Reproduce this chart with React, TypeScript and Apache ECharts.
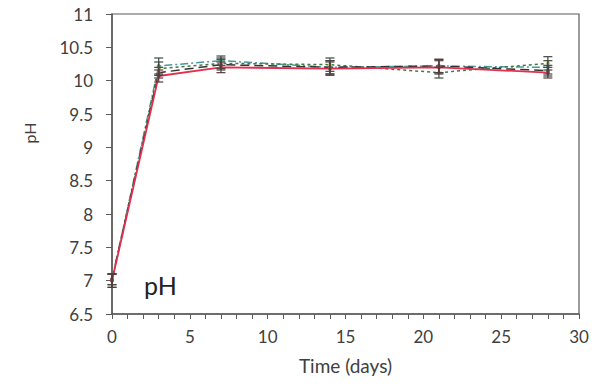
import React, { useEffect, useRef } from "react";
import * as echarts from "echarts";

const days = [0, 3, 7, 14, 21, 28];
const redVals = [7.0, 10.07, 10.2, 10.18, 10.2, 10.12];
const redErr = [0.1, 0.09, 0.08, 0.1, 0.1, 0.08];
const blackVals = [7.02, 10.12, 10.24, 10.2, 10.22, 10.15];
const blackErr = [0.08, 0.08, 0.08, 0.1, 0.1, 0.08];
const greenVals = [7.0, 10.18, 10.26, 10.24, 10.12, 10.26];
const greenErr = [0.1, 0.1, 0.08, 0.1, 0.08, 0.1];
const tealVals = [7.02, 10.22, 10.3, 10.2, 10.22, 10.2];
const tealErr = [0.08, 0.12, 0.07, 0.1, 0.1, 0.1];

const xTicks = [0, 5, 10, 15, 20, 25, 30];

export default function App() {
  const ref = useRef<HTMLDivElement>(null);
  useEffect(() => {
    if (!ref.current) return;
    const chart = echarts.init(ref.current, null, { renderer: "svg" });
    const font = "Lato, 'Open Sans', sans-serif";
    const axisColor = "#5a5a5a";
    const toPairs = (v: number[]) => days.map((d, i) => [d, v[i]]);
    const errData = (v: number[], e: number[]) => days.map((d, i) => [d, v[i] - e[i], v[i] + e[i]]);
    const errSeries = (v: number[], e: number[], color: string) => ({
      type: "custom",
      data: errData(v, e),
      z: 5,
      renderItem: (params: any, api: any) => {
        const x = api.value(0);
        const lo = api.coord([x, api.value(1)]);
        const hi = api.coord([x, api.value(2)]);
        const w = 4.5;
        const st = { stroke: color, lineWidth: 1.2 };
        return {
          type: "group",
          children: [
            { type: "line", shape: { x1: lo[0], y1: lo[1], x2: hi[0], y2: hi[1] }, style: st },
            { type: "line", shape: { x1: lo[0] - w, y1: lo[1], x2: lo[0] + w, y2: lo[1] }, style: st },
            { type: "line", shape: { x1: hi[0] - w, y1: hi[1], x2: hi[0] + w, y2: hi[1] }, style: st },
          ],
        };
      },
    });
    const lineSeries = (v: number[], color: string, type: any, width: number, mcolor: string) => ({
      type: "line",
      data: toPairs(v),
      symbol: "circle",
      symbolSize: 4,
      itemStyle: { color: mcolor },
      lineStyle: { color, type, width },
      z: 3,
    });
    chart.setOption({
      animation: false,
      grid: {
        left: 112,
        right: 20,
        top: 14,
        bottom: 73,
        show: true,
        borderColor: axisColor,
        borderWidth: 1.2,
      },
      xAxis: {
        type: "value",
        min: 0,
        max: 30,
        interval: 1,
        name: "Time (days)",
        nameLocation: "middle",
        nameGap: 42,
        nameTextStyle: { fontFamily: font, fontSize: 19, color: "#404040" },
        axisLine: { lineStyle: { color: axisColor, width: 1.5 } },
        axisTick: { show: true, length: 5, lineStyle: { color: axisColor } },
        axisLabel: {
          fontFamily: font,
          fontSize: 17,
          color: "#404040",
          margin: 14,
          formatter: (v: number) => (xTicks.includes(v) ? String(v) : ""),
        },
        splitLine: { show: false },
      },
      yAxis: {
        type: "value",
        min: 6.5,
        max: 11,
        interval: 0.5,
        axisLine: { show: true, lineStyle: { color: axisColor, width: 1.5 } },
        axisTick: { show: true, length: 6, lineStyle: { color: axisColor } },
        axisLabel: { fontFamily: font, fontSize: 17, color: "#404040", margin: 19 },
        splitLine: { show: false },
      },
      graphic: [
        {
          type: "text",
          x: 29,
          y: 133,
          rotation: Math.PI / 2,
          style: {
            text: "pH",
            fontFamily: font,
            fontSize: 16,
            fill: "#404040",
            align: "center",
            verticalAlign: "middle",
          },
        },
        {
          type: "text",
          left: 144,
          top: 272,
          style: { text: "pH", fontFamily: font, fontSize: 25, fill: "#222222" },
        },
      ],
      series: [
        errSeries(tealVals, tealErr, "#3c4a4a"),
        errSeries(greenVals, greenErr, "#3c4a3c"),
        errSeries(blackVals, blackErr, "#444444"),
        errSeries(redVals, redErr, "#5a3a3a"),
        lineSeries(tealVals, "#4a9a9a", [8, 3, 2, 3], 1.5, "#4aa0a0"),
        lineSeries(greenVals, "#3f7a45", [3, 3], 1.5, "#c8c85a"),
        lineSeries(blackVals, "#333333", [9, 5], 1.5, "#8a6a6a"),
        lineSeries(redVals, "#e4304e", "solid", 1.8, "#b04050"),
      ],
    });
    return () => chart.dispose();
  }, []);
  return <div ref={ref} style={{ width: 599, height: 387, margin: -8 }} />;
}
